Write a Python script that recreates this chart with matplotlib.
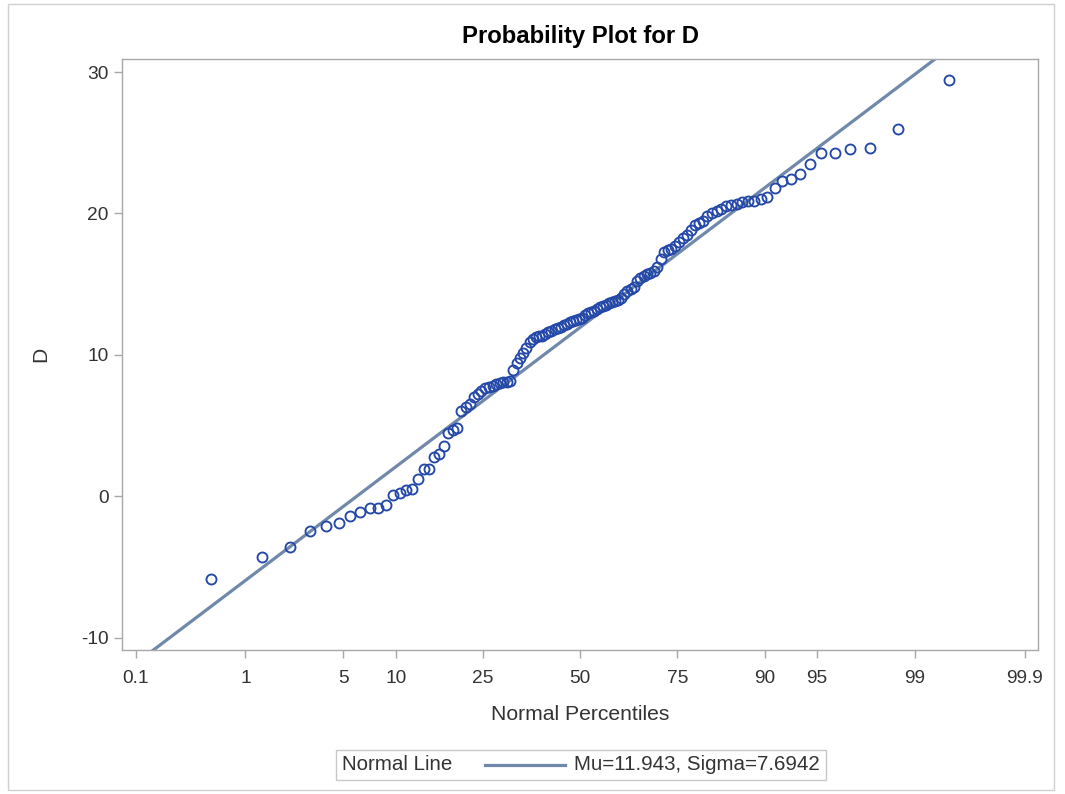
import numpy as np
import matplotlib
matplotlib.use("Agg")
import matplotlib.pyplot as plt
from matplotlib.lines import Line2D
from matplotlib.patches import Rectangle
from matplotlib.offsetbox import AnchoredOffsetbox, HPacker, TextArea, DrawingArea
from statistics import NormalDist

plt.rcParams['font.family'] = ['Liberation Sans', 'DejaVu Sans']
plt.rcParams['axes.unicode_minus'] = False

d_values = [
    -5.84, -4.31, -3.62, -2.44, -2.11, -1.88, -1.41, -1.08, -0.84, -0.86,
    -0.60, 0.10, 0.22, 0.41, 0.50, 1.25, 1.90, 1.95, 2.75, 3.00,
    3.55, 4.50, 4.65, 4.80, 6.05, 6.30, 6.55, 7.00, 7.20, 7.45,
    7.65, 7.75, 7.80, 7.95, 8.00, 8.05, 8.10, 8.15, 8.90, 9.40,
    9.80, 10.10, 10.50, 10.90, 11.10, 11.25, 11.30, 11.35, 11.45, 11.60,
    11.70, 11.85, 11.90, 12.00, 12.10, 12.20, 12.30, 12.40, 12.50, 12.55,
    12.60, 12.80, 12.95, 13.00, 13.10, 13.25, 13.35, 13.45, 13.55, 13.65,
    13.75, 13.80, 13.90, 14.05, 14.30, 14.50, 14.65, 14.80, 15.20, 15.40,
    15.55, 15.70, 15.80, 15.95, 16.20, 16.80, 17.30, 17.40, 17.50, 17.70,
    17.95, 18.25, 18.50, 18.85, 19.15, 19.35, 19.45, 19.85, 20.00, 20.15,
    20.35, 20.50, 20.60, 20.65, 20.85, 20.80, 20.85, 21.00, 21.15, 21.78,
    22.28, 22.42, 22.77, 23.48, 24.26, 24.26, 24.54, 24.62, 25.97, 29.42,
]
mu = 11.943
sigma = 7.6942

pct_ticks = [0.1, 1, 5, 10, 25, 50, 75, 90, 95, 99, 99.9]
pct_labels = ['0.1', '1', '5', '10', '25', '50', '75', '90', '95', '99', '99.9']
y_ticks = [-10, 0, 10, 20, 30]

nd = NormalDist()
d_sorted = np.sort(np.array(d_values))
n = len(d_sorted)
ranks = np.arange(1, n + 1)
# Blom plotting positions -> normal quantiles
zq = np.array([nd.inv_cdf((r - 0.375) / (n + 0.25)) for r in ranks])

W, H = 1065, 794
fig = plt.figure(figsize=(W / 100, H / 100), dpi=100)
fig.patch.set_facecolor('white')

# outer border
fig.add_artist(Rectangle((8 / W, 1 - 790 / H), (1054 - 8) / W, (790 - 4) / H,
                         transform=fig.transFigure, fill=False,
                         edgecolor='#d0d0d0', lw=1.0))

ax = fig.add_axes([122.3 / W, 1 - 649.5 / H, (1038 - 122.3) / W, (649.5 - 58.5) / H])

frame_col = '#a8a8a8'
text_col = '#333333'
line_col = '#7088aa'
mark_col = '#2448a8'

zlim = 3.182
ax.set_xlim(-zlim, zlim)
ax.set_ylim(-10.84, 30.96)

zz = np.array([-zlim, zlim])
ax.plot(zz, mu + sigma * zz, color=line_col, lw=2.3, solid_capstyle='butt', zorder=2)
ax.plot(zq, d_sorted, linestyle='none', marker='o', ms=7.2, mfc='none',
        mec=mark_col, mew=1.35, zorder=3)

ax.set_xticks([nd.inv_cdf(p / 100) for p in pct_ticks])
ax.set_xticklabels(pct_labels)
ax.set_yticks(y_ticks)

for s in ax.spines.values():
    s.set_color(frame_col)
    s.set_linewidth(1.0)
ax.tick_params(axis='both', colors=frame_col, labelcolor=text_col,
               labelsize=13.8, length=6, width=1.0, direction='out')
ax.tick_params(axis='x', pad=9)
ax.tick_params(axis='y', pad=4)

ax.set_xlabel('Normal Percentiles', fontsize=15.2, color=text_col, labelpad=13)
ax.set_ylabel('D', fontsize=15.2, color=text_col, labelpad=22)

fig.text(580 / W, 1 - 36 / H, 'Probability Plot for D', ha='center', va='center',
         fontsize=17.2, fontweight='bold', color='black')

# legend
da = DrawingArea(88, 10, 0, 0)
da.add_artist(Line2D([24, 81.5], [5, 5], color=line_col, lw=2.3))
box = HPacker(children=[TextArea('Normal Line', textprops=dict(fontsize=14.8, color=text_col)),
                        da,
                        TextArea('Mu=11.943, Sigma=7.6942', textprops=dict(fontsize=14.8, color=text_col))],
              align='center', pad=0, sep=0)
anch = AnchoredOffsetbox(loc='center', child=box, pad=0.42, frameon=True,
                         bbox_to_anchor=(581 / W, 1 - 765 / H),
                         bbox_transform=fig.transFigure, borderpad=0)
anch.patch.set_edgecolor('#c8c8c8')
anch.patch.set_linewidth(1.0)
fig.add_artist(anch)

fig.savefig('out.png', dpi=100)
